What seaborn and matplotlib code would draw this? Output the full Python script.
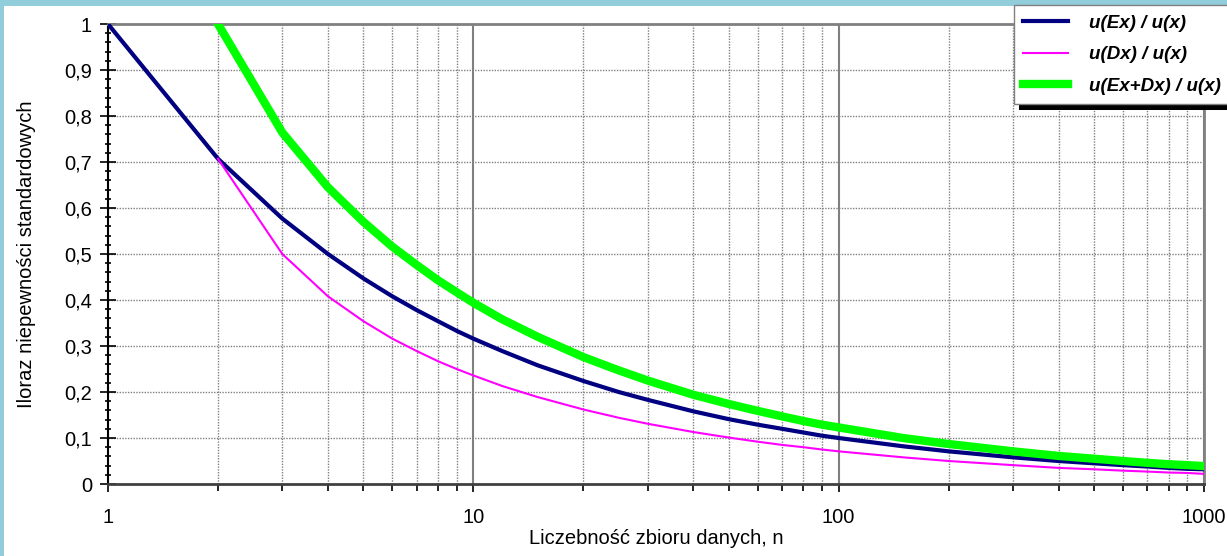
import numpy as np
import pandas as pd
import matplotlib
matplotlib.use("Agg")
import matplotlib.pyplot as plt
import seaborn as sns
from matplotlib.patches import Rectangle
from matplotlib.ticker import FixedLocator, MultipleLocator, NullFormatter

plt.rcParams['font.family'] = ['Liberation Sans', 'DejaVu Sans']

# values
n_ex = [1, 2, 3, 4, 5, 6, 7, 8, 9, 10, 12, 15, 20, 25, 30, 40, 50, 60, 70, 80, 90,
        100, 150, 200, 300, 400, 500, 600, 700, 800, 900, 1000]
u_ex = [1.000, 0.707, 0.577, 0.500, 0.447, 0.408, 0.378, 0.354, 0.333, 0.316, 0.289,
        0.258, 0.224, 0.200, 0.183, 0.158, 0.141, 0.129, 0.120, 0.112, 0.105,
        0.100, 0.082, 0.071, 0.058, 0.050, 0.045, 0.041, 0.038, 0.035, 0.033, 0.032]

n_dx = [2, 3, 4, 5, 6, 7, 8, 9, 10, 12, 15, 20, 25, 30, 40, 50, 60, 70, 80, 90,
        100, 150, 200, 300, 400, 500, 600, 700, 800, 900, 1000]
u_dx = [0.707, 0.500, 0.408, 0.354, 0.316, 0.289, 0.267, 0.250, 0.236, 0.213,
        0.189, 0.162, 0.144, 0.131, 0.113, 0.101, 0.092, 0.085, 0.080, 0.075,
        0.071, 0.058, 0.050, 0.041, 0.035, 0.032, 0.029, 0.027, 0.025, 0.024, 0.022]
u_sum = [1.000, 0.764, 0.645, 0.570, 0.516, 0.476, 0.443, 0.417, 0.394, 0.358,
         0.320, 0.276, 0.247, 0.225, 0.194, 0.174, 0.159, 0.147, 0.137, 0.129,
         0.123, 0.100, 0.087, 0.071, 0.061, 0.055, 0.050, 0.046, 0.043, 0.041, 0.039]

labels = ['u(Ex) / u(x)', 'u(Dx) / u(x)', 'u(Ex+Dx) / u(x)']
colors = ['#000080', '#FF00FF', '#00FF00']
widths = [3.0, 1.5, 6.0]

W, H = 1227, 556
fig = plt.figure(figsize=(W / 100, H / 100), dpi=100)
fig.patch.set_facecolor('#92CDDC')
fig.add_artist(Rectangle((4 / W, 0), 1, 1 - 6 / H, transform=fig.transFigure,
                         facecolor='white', edgecolor='none', zorder=-1))

ax = fig.add_axes([108 / W, 1 - 484 / H, (1204 - 108) / W, (484 - 24) / H])

df_ex = pd.DataFrame({'n': n_ex, 'v': u_ex})
df_dx = pd.DataFrame({'n': n_dx, 'v': u_dx})
df_sum = pd.DataFrame({'n': n_dx, 'v': u_sum})
for d, lab, c, lw in zip([df_ex, df_dx, df_sum], labels, colors, widths):
    sns.lineplot(data=d, x='n', y='v', ax=ax, color=c, linewidth=lw, label=lab,
                 zorder=3)

ax.set_xscale('log')
ax.set_xlim(1, 1000)
ax.set_ylim(0, 1)
ax.set_xticks([1, 10, 100, 1000])
ax.set_xticklabels(['1', '10', '100', '1000'])
ax.xaxis.set_minor_locator(FixedLocator([m * 10 ** k for k in range(3) for m in range(2, 10)]))
ax.xaxis.set_minor_formatter(NullFormatter())
ax.yaxis.set_major_locator(MultipleLocator(0.1))
ax.yaxis.set_minor_locator(MultipleLocator(0.02))
yt = np.round(np.arange(0, 1.01, 0.1), 1)
ax.set_yticks(yt)
ax.set_yticklabels(['0' if v == 0 else ('1' if v == 1 else f'{v:.1f}'.replace('.', ',')) for v in yt])

ax.grid(True, which='major', axis='y', color='#808080', linestyle=(0, (1, 1)), linewidth=1)
ax.grid(True, which='minor', axis='x', color='#808080', linestyle=(0, (1, 1)), linewidth=1)
ax.grid(True, which='major', axis='x', color='#808080', linestyle='-', linewidth=1.5)
ax.set_axisbelow(True)

ax.tick_params(axis='y', which='major', direction='inout', length=11, width=1.2,
               labelsize=14.5, pad=6, colors='black')
ax.tick_params(axis='y', which='minor', direction='inout', length=5, width=1.2)
ax.tick_params(axis='x', which='major', direction='out', length=6, width=1.2,
               labelsize=14.5, pad=11)
ax.tick_params(axis='x', which='minor', direction='out', length=5, width=1.2)

for s, c, lw in [('left', 'black', 1.5), ('bottom', '#404040', 2), ('top', '#808080', 2),
                 ('right', '#808080', 2)]:
    ax.spines[s].set_color(c)
    ax.spines[s].set_linewidth(lw)

ax.set_xlabel('Liczebność zbioru danych, n', fontsize=14.5, labelpad=2)
ax.set_ylabel('Iloraz niepewności standardowych', fontsize=14.5, labelpad=20)

handles, labs = ax.get_legend_handles_labels()
ax.get_legend().remove()
leg = fig.legend(handles, labs, loc='upper left', bbox_to_anchor=(1014 / W, 1 - 5 / H),
                 borderaxespad=0, fancybox=False, frameon=True, framealpha=1,
                 handlelength=2.4, handletextpad=1.1, labelspacing=0.78, borderpad=0.5,
                 prop={'size': 13.5, 'weight': 'bold', 'style': 'italic'})
leg.get_frame().set_edgecolor('#808080')
leg.get_frame().set_facecolor('white')
leg.get_frame().set_linewidth(1)
leg.set_zorder(6)

fig.canvas.draw()
bb = leg.get_window_extent()
fig.add_artist(Rectangle(((bb.x0 + 5) / W, (bb.y0 - 6) / H), bb.width / W, bb.height / H,
                         transform=fig.transFigure, facecolor='black', edgecolor='none',
                         zorder=5))

fig.savefig('out.png', dpi=100)
